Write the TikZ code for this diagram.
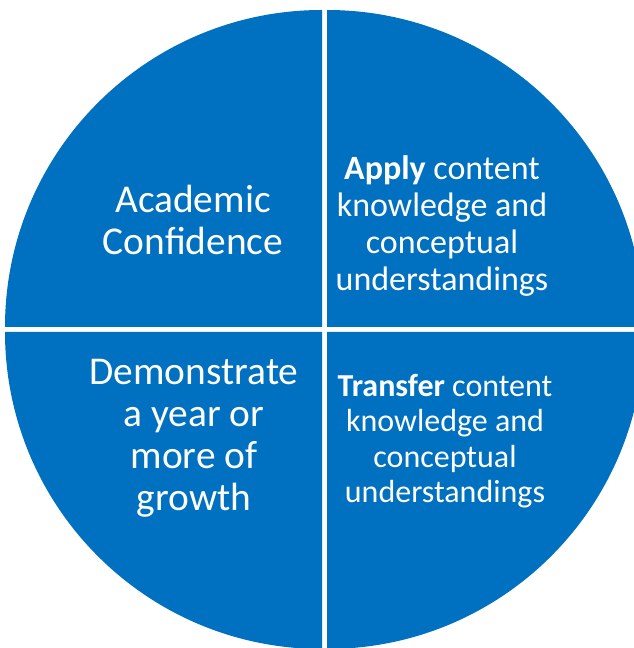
\documentclass[tikz,border=0pt]{standalone}
\usepackage{fontspec}
\setmainfont{Carlito}
\definecolor{pieblue}{HTML}{0070C0}

\begin{document}
\begin{tikzpicture}[x=1pt, y=1pt,
    quad/.style={fill=pieblue},
    biglabel/.style={text=white, align=center, font=\fontsize{39.4}{42}\selectfont},
    smalllabel/.style={text=white, align=center, font=\fontsize{34}{37}\selectfont}]

\useasboundingbox (0,0) rectangle (634,648);
\clip (0,0) rectangle (634,648);

% Four quarters of the pie, pulled slightly apart
\foreach \cx/\cy/\a in {322/321/90, 327/321/0, 322/316/180, 327/316/270} {
    \fill[quad] (\cx,\cy) -- ++(\a:317) arc[start angle=\a, delta angle=90, radius=317] -- cycle;
}

% Labels
\node[biglabel] (confidence) at (193,428.5) {Academic\\Confidence};
\node[smalllabel] (apply) at (442,422) {\textbf{Apply} content\\knowledge and\\conceptual\\understandings};
\node[biglabel] (growth) at (194,209.5) {Demonstrate\\a year or\\more of\\growth};
\node[smalllabel, font=\fontsize{32}{35.5}\selectfont] (transfer) at (445,207) {\textbf{Transfer} content\\knowledge and\\conceptual\\understandings};

\end{tikzpicture}
\end{document}
